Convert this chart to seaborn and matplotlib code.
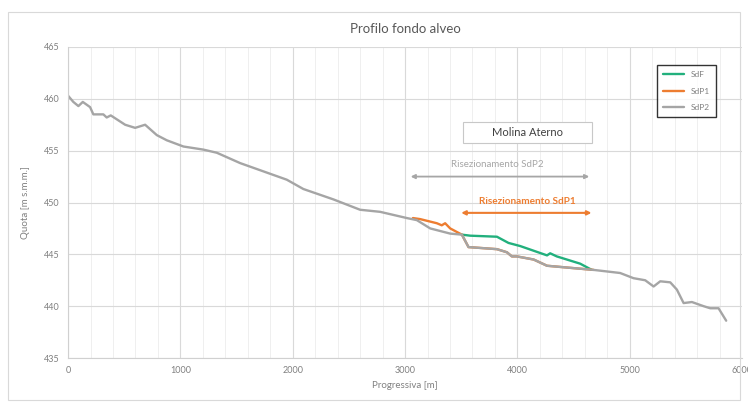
import matplotlib.pyplot as plt
import matplotlib.patches as patches
from matplotlib.ticker import MultipleLocator
import seaborn as sns
import numpy as np
import pandas as pd

# Profilo SdP2 (grigio)
sdp2_x = [0, 47, 92, 131, 196, 225, 314, 344, 380, 508, 597, 686, 790, 879, 1027, 1205, 1324,
          1532, 1947, 2095, 2362, 2600, 2778, 3016, 3105, 3224, 3402, 3506, 3565, 3818, 3907,
          3951, 3996, 4145, 4264, 4470, 4678, 4915, 5034, 5138, 5213, 5272, 5361, 5420, 5480,
          5554, 5658, 5717, 5791, 5859]
sdp2_y = [460.3, 459.7, 459.3, 459.7, 459.2, 458.5, 458.5, 458.2, 458.4, 457.5, 457.2, 457.5,
          456.5, 456.0, 455.4, 455.1, 454.8, 453.8, 452.2, 451.3, 450.3, 449.3, 449.1, 448.5,
          448.3, 447.5, 447.0, 446.9, 445.7, 445.5, 445.2, 444.8, 444.8, 444.5, 443.9, 443.7,
          443.5, 443.2, 442.7, 442.5, 441.9, 442.4, 442.3, 441.6, 440.3, 440.4, 440.0, 439.8,
          439.8, 438.6]

# Profilo SdP1 (arancio)
sdp1_x = [3070, 3134, 3283, 3327, 3357, 3402, 3506, 3565, 3818, 3907, 3951, 3996, 4145, 4264,
          4470, 4678]
sdp1_y = [448.5, 448.4, 448.0, 447.8, 448.0, 447.5, 446.9, 445.7, 445.5, 445.2, 444.8, 444.8,
          444.5, 443.9, 443.7, 443.5]

# Stato di fatto (verde)
sdf_x = [3506, 3580, 3818, 3921, 4025, 4264, 4292, 4351, 4559, 4663]
sdf_y = [446.9, 446.8, 446.7, 446.1, 445.8, 444.9, 445.1, 444.8, 444.1, 443.5]

series = [("SdF", sdf_x, sdf_y, "#22b07d"),
          ("SdP1", sdp1_x, sdp1_y, "#ed7d31"),
          ("SdP2", sdp2_x, sdp2_y, "#a5a5a5")]

sns.set_style("white")
plt.rcParams['font.family'] = ['Lato', 'DejaVu Sans']

fig = plt.figure(figsize=(7.48, 4.05), dpi=100)
ax = fig.add_axes([0.091, 0.116, 0.901, 0.768])

for name, xs, ys, col in series:
    df = pd.DataFrame({"x": xs, "y": ys})
    sns.lineplot(data=df, x="x", y="y", ax=ax, color=col, lw=1.7, label=name,
                 estimator=None, sort=False)

ax.set_xlim(0, 6000)
ax.set_ylim(435, 465)
ax.xaxis.set_major_locator(MultipleLocator(1000))
ax.xaxis.set_minor_locator(MultipleLocator(200))
ax.yaxis.set_major_locator(MultipleLocator(5))
ax.grid(which="major", color="#d9d9d9", lw=0.8)
ax.grid(which="minor", axis="x", color="#efefef", lw=0.7)
ax.set_axisbelow(True)
for s in ["top", "right"]:
    ax.spines[s].set_visible(False)
for s in ["left", "bottom"]:
    ax.spines[s].set_color("#d0d0d0")
ax.tick_params(which="both", length=0, labelsize=6.5, colors="#808080", pad=6)

ax.set_title("Profilo fondo alveo", fontsize=9.5, color="#595959", pad=10)
ax.set_xlabel("Progressiva [m]", fontsize=7, color="#808080", labelpad=4)
ax.set_ylabel("Quota [m s.m.m.]", fontsize=7, color="#808080", labelpad=10)

leg = ax.legend(loc="upper left", bbox_to_anchor=(0.868, 0.955), fontsize=6,
                frameon=True, fancybox=False, handlelength=2.5, labelspacing=1.15,
                borderpad=0.7)
leg.get_frame().set_edgecolor("black")
leg.get_frame().set_linewidth(1.0)
for t in leg.get_texts():
    t.set_color("#808080")

# riquadro "Molina Aterno"
ax.add_patch(patches.Rectangle((3515, 455.7), 1150, 2.1, fc="white", ec="#c8c8c8", lw=0.8,
                               zorder=3))
ax.text(4090, 456.75, "Molina Aterno", ha="center", va="center", fontsize=8, color="#404040",
        zorder=4)

ax.annotate("", xy=(3050, 452.5), xytext=(4640, 452.5),
            arrowprops=dict(arrowstyle="<|-|>", color="#a6a6a6", lw=1.3,
                            mutation_scale=6, shrinkA=0, shrinkB=0))
ax.text(3820, 453.2, "Risezionamento SdP2", ha="center", va="bottom", fontsize=7,
        color="#a6a6a6")
ax.annotate("", xy=(3500, 449.0), xytext=(4660, 449.0),
            arrowprops=dict(arrowstyle="<|-|>", color="#ed7d31", lw=1.5,
                            mutation_scale=6, shrinkA=0, shrinkB=0))
ax.text(4090, 449.7, "Risezionamento SdP1", ha="center", va="bottom", fontsize=7.2,
        color="#ed7d31", fontweight="bold")

fig.patches.append(patches.Rectangle((0.011, 0.012), 0.978, 0.958, transform=fig.transFigure,
                                     fill=False, ec="#d9d9d9", lw=0.8))

fig.savefig("out.png", dpi=100)
